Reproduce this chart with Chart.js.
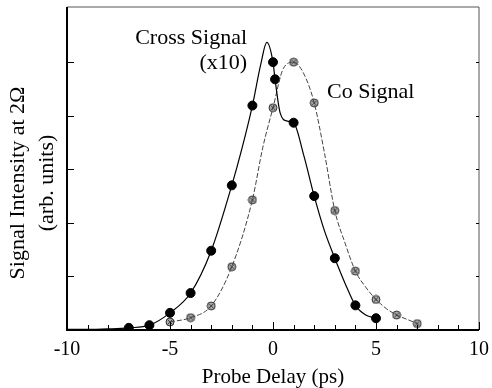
<!DOCTYPE html>
<html>
<head>
<meta charset="utf-8">
<script src="https://cdn.jsdelivr.net/npm/chart.js@4"></script>
<style>
  body { margin: 0; background: #fff; }
</style>
</head>
<body>
<canvas id="delay_chart" width="492" height="388"></canvas>
<script>
// measured points
const crossX = [-7, -6, -5, -4, -3, -2, -1, 0, 0.1, 1, 2, 3, 4, 5];
const crossY = [0.04, 0.09, 0.32, 0.69, 1.48, 2.7, 4.19, 5.0, 4.68, 3.87, 2.5, 1.34, 0.46, 0.22];
const coX = [-5, -4, -3, -2, -1, 0, 1, 2, 3, 4, 5, 6, 7];
const coY = [0.15, 0.23, 0.45, 1.18, 2.43, 4.15, 5.0, 4.24, 2.23, 1.1, 0.57, 0.28, 0.12];

// fitted curves
const crossCurveX = [-10, -9, -8, -7, -6, -5, -4, -3, -2, -1.5, -1, -0.6, -0.3, 0, 0.1, 0.35, 0.7, 1, 1.5, 2, 2.5, 3, 3.5, 4, 4.5, 5];
const crossCurveY = [0.01, 0.01, 0.02, 0.04, 0.09, 0.32, 0.69, 1.48, 2.7, 3.4, 4.19, 4.95, 5.37, 5.0, 4.68, 4.05, 3.9, 3.87, 3.25, 2.5, 1.85, 1.34, 0.87, 0.46, 0.28, 0.22];
const coCurveX = [-5, -4, -3, -2, -1, -0.5, 0, 0.5, 1, 1.5, 2, 2.5, 3, 3.5, 4, 4.5, 5, 5.5, 6, 6.5, 7];
const coCurveY = [0.15, 0.23, 0.45, 1.18, 2.43, 3.4, 4.15, 4.88, 5.0, 4.78, 4.24, 3.3, 2.23, 1.62, 1.1, 0.8, 0.57, 0.4, 0.28, 0.2, 0.12];

const xTicks = [-10, -5, 0, 5, 10];

const pairs = (xs, ys) => xs.map((x, i) => ({ x: x, y: ys[i] }));

// hatched marker for the Co signal
const coMark = document.createElement("canvas");
coMark.width = 10;
coMark.height = 10;
(function () {
  const c = coMark.getContext("2d");
  c.beginPath();
  c.arc(5, 5, 4, 0, Math.PI * 2);
  c.fillStyle = "#a8a8a8";
  c.fill();
  c.strokeStyle = "#333";
  c.lineWidth = 1;
  c.stroke();
  c.beginPath();
  c.moveTo(2.5, 2.5); c.lineTo(7.5, 7.5);
  c.moveTo(7.5, 2.5); c.lineTo(2.5, 7.5);
  c.strokeStyle = "#444";
  c.stroke();
})();

const serif = "'Liberation Serif', 'DejaVu Serif', serif";

const framePlugin = {
  id: "frame",
  afterDraw(chart) {
    const { ctx, chartArea: a, scales } = chart;
    const xs = scales.x, ys = scales.y;
    ctx.save();

    // box
    ctx.lineWidth = 1;
    ctx.strokeStyle = "#555";
    ctx.beginPath();
    ctx.moveTo(a.left, a.top); ctx.lineTo(a.right, a.top); ctx.lineTo(a.right, a.bottom);
    ctx.stroke();
    ctx.strokeStyle = "#000";
    ctx.lineWidth = 2;
    ctx.beginPath();
    ctx.moveTo(a.left, a.top); ctx.lineTo(a.left, a.bottom); ctx.lineTo(a.right, a.bottom);
    ctx.stroke();

    // inward ticks
    ctx.lineWidth = 1;
    ctx.beginPath();
    for (let v = -10; v <= 10; v++) {
      const px = Math.round(xs.getPixelForValue(v)) + 0.5;
      const len = v % 5 === 0 ? 8 : 5;
      ctx.moveTo(px, a.bottom); ctx.lineTo(px, a.bottom - len);
    }
    for (let v = 1; v <= 5; v++) {
      const py = Math.round(ys.getPixelForValue(v)) + 0.5;
      ctx.moveTo(a.left, py); ctx.lineTo(a.left + 7, py);
      ctx.moveTo(a.right, py); ctx.lineTo(a.right - 3, py);
    }
    ctx.stroke();

    // labels
    ctx.fillStyle = "#000";
    ctx.font = "22px " + serif;
    ctx.textBaseline = "middle";
    ctx.textAlign = "right";
    ctx.fillText("Cross Signal", xs.getPixelForValue(-1.26), ys.getPixelForValue(5.45));
    ctx.fillText("(x10)", xs.getPixelForValue(-1.26), ys.getPixelForValue(4.98));
    ctx.textAlign = "left";
    ctx.fillText("Co Signal", xs.getPixelForValue(2.62), ys.getPixelForValue(4.44));

    // axis titles
    ctx.textAlign = "center";
    ctx.font = "21px " + serif;
    ctx.fillText("Probe Delay (ps)", (a.left + a.right) / 2, 377);

    ctx.font = "22px " + serif;
    ctx.translate(0, 183);
    ctx.rotate(-Math.PI / 2);
    ctx.fillText("Signal Intensity at 2\u03a9", 0, 18);
    ctx.fillText("(arb. units)", 0, 47);
    ctx.restore();
  },
};

const delay_chart = new Chart(document.getElementById("delay_chart"), {
  type: "scatter",
  data: {
    datasets: [
      {
        data: pairs(crossCurveX, crossCurveY),
        showLine: true,
        cubicInterpolationMode: "monotone",
        borderColor: "#000",
        borderWidth: 1.2,
        pointRadius: 0,
      },
      {
        data: pairs(coCurveX, coCurveY),
        showLine: true,
        cubicInterpolationMode: "monotone",
        borderColor: "#444",
        borderWidth: 1,
        borderDash: [5, 2],
        pointRadius: 0,
      },
      {
        data: pairs(crossX, crossY),
        pointRadius: 4.5,
        pointBackgroundColor: "#000",
        pointBorderColor: "#000",
      },
      {
        data: pairs(coX, coY),
        pointStyle: coMark,
      },
    ],
  },
  options: {
    responsive: false,
    animation: false,
    layout: { padding: { left: 0, right: 13, top: 7, bottom: 0 } },
    plugins: {
      legend: { display: false },
      tooltip: { enabled: false },
    },
    scales: {
      x: {
        type: "linear",
        min: -10,
        max: 10,
        afterBuildTicks: (s) => { s.ticks = xTicks.map((v) => ({ value: v })); },
        afterFit: (s) => { s.height = 58; },
        grid: { display: false },
        border: { display: false },
        ticks: {
          color: "#000",
          padding: 0,
          font: { family: serif, size: 20 },
        },
      },
      y: {
        min: 0,
        max: 6.03,
        afterFit: (s) => { s.width = 67; },
        grid: { display: false },
        border: { display: false },
        ticks: { display: false },
      },
    },
  },
  plugins: [framePlugin],
});
</script>
</body>
</html>
